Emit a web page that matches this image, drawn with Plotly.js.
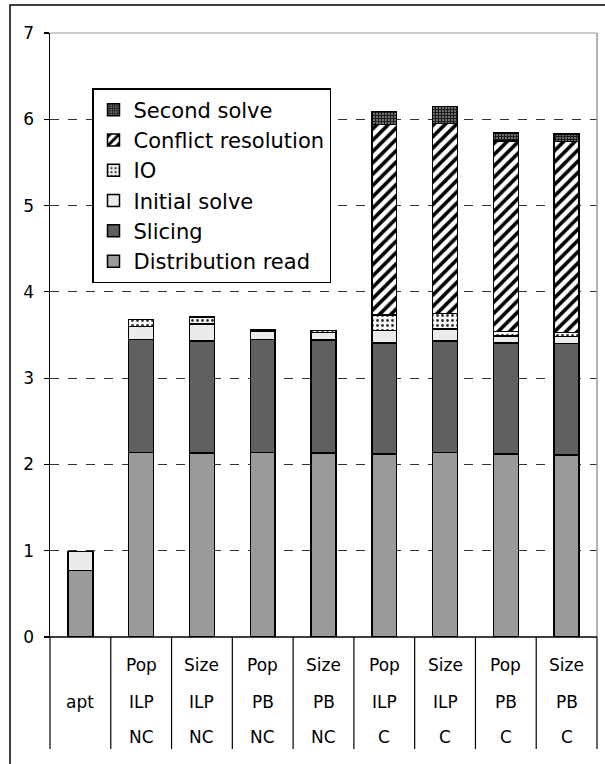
<!DOCTYPE html>
<html>
<head>
<meta charset="utf-8">
<script src="https://cdn.plot.ly/plotly-3.0.1.min.js"></script>
<style>html,body{margin:0;padding:0;background:#fff;}#chart{width:605px;height:764px;}</style>
</head>
<body>
<div id="chart"></div>
<script>
// ---- data ----
const categories = ["apt", "Pop ILP NC", "Size ILP NC", "Pop PB NC", "Size PB NC", "Pop ILP C", "Size ILP C", "Pop PB C", "Size PB C"];
const row1Labels = ["", "Pop", "Size", "Pop", "Size", "Pop", "Size", "Pop", "Size"];
const row2Labels = ["apt", "ILP", "ILP", "PB", "PB", "ILP", "ILP", "PB", "PB"];
const row3Labels = ["", "NC", "NC", "NC", "NC", "C", "C", "C", "C"];

const distributionRead = [0.77, 2.14, 2.13, 2.14, 2.13, 2.12, 2.14, 2.12, 2.11];
const slicing          = [0,    1.31, 1.30, 1.31, 1.31, 1.29, 1.29, 1.29, 1.29];
const initialSolve     = [0.22, 0.15, 0.20, 0.09, 0.09, 0.14, 0.14, 0.08, 0.08];
const io               = [0,    0.08, 0.08, 0.02, 0.02, 0.18, 0.18, 0.05, 0.05];
const conflictRes      = [0,    0,    0,    0,    0,    2.21, 2.20, 2.21, 2.21];
const secondSolve      = [0,    0,    0,    0,    0,    0.15, 0.20, 0.09, 0.09];

const yTicks = [0, 1, 2, 3, 4, 5, 6, 7];

// ---- traces ----
const line = {color: "#000", width: 1.5};
function bar(name, y, marker) {
  return {type: "bar", name: name, x: categories, y: y,
          marker: Object.assign({line: line}, marker), hoverinfo: "skip"};
}
const traces = [
  bar("Distribution read", distributionRead, {color: "#9a9a9a"}),
  bar("Slicing", slicing, {color: "#606060"}),
  bar("Initial solve", initialSolve, {color: "#ebebeb"}),
  bar("IO", io, {color: "#ffffff", pattern: {shape: ".", fgcolor: "#333", bgcolor: "#f6f6f6", size: 5, solidity: 0.25}}),
  bar("Conflict resolution", conflictRes, {color: "#ffffff", pattern: {shape: "/", fgcolor: "#000", bgcolor: "#fff", size: 8, solidity: 0.45}}),
  bar("Second solve", secondSolve, {color: "#444", pattern: {shape: "+", fgcolor: "#1c1c1c", bgcolor: "#a0a0a0", size: 3, solidity: 0.7}})
];

// ---- table lines & labels ----
const L = 50, R = 597, T = 33, B = 637;
const pw = R - L, ph = B - T;
const py = p => (B - p) / ph;
const shapes = [];
const n = categories.length;
for (let i = 0; i <= n; i++) {
  shapes.push({type: "line", xref: "paper", yref: "paper", x0: i / n, x1: i / n,
               y0: 0, y1: py(749), line: {color: "#000", width: 1.2}});
}
// plot border top and right (gray)
shapes.push({type: "line", xref: "paper", yref: "paper", x0: 1, x1: 1, y0: 0, y1: 1, line: {color: "#999", width: 1.5}});
shapes.push({type: "line", xref: "paper", yref: "paper", x0: 0, x1: 1, y0: 1, y1: 1, line: {color: "#999", width: 1.2}});
// outer chart border
shapes.push({type: "rect", xref: "paper", yref: "paper", x0: (10 - L) / pw, x1: 1.2, y0: py(5), y1: py(800),
             line: {color: "#000", width: 1.5}, fillcolor: "rgba(0,0,0,0)"});
// axis line at 0 extended slightly left
shapes.push({type: "line", xref: "paper", yref: "paper", x0: (45 - L) / pw, x1: 1, y0: 0, y1: 0, line: {color: "#000", width: 1.5}});

const annotations = [];
const rows = [[row1Labels, 665], [row2Labels, 702], [row3Labels, 737]];
rows.forEach(([labels, ypix]) => {
  labels.forEach((t, i) => {
    if (!t) return;
    annotations.push({xref: "x", yref: "paper", x: categories[i], y: py(ypix), text: t,
                      showarrow: false, xanchor: "center", yanchor: "middle",
                      font: {family: "DejaVu Sans", size: 17, color: "#000"}});
  });
});

const layout = {
  width: 605, height: 764,
  margin: {l: L, r: 605 - R, t: T, b: 764 - B, pad: 0},
  paper_bgcolor: "#fff", plot_bgcolor: "#fff",
  barmode: "stack", bargap: 0.59,
  font: {family: "DejaVu Sans", size: 16, color: "#000"},
  showlegend: true,
  legend: {x: (92 - L) / pw, y: py(88), xanchor: "left", yanchor: "top",
           bordercolor: "#000", borderwidth: 1.5, bgcolor: "#fff",
           font: {family: "DejaVu Sans", size: 21, color: "#000"},
           traceorder: "reversed", itemwidth: 30},
  xaxis: {type: "category", showticklabels: false, showgrid: false, zeroline: false,
          showline: false, ticks: "", range: [-0.5, n - 0.5], fixedrange: true},
  yaxis: {range: [0, 7], tickvals: yTicks, ticktext: yTicks.map(String), ticks: "outside", ticklen: 5,
          tickcolor: "#000", tickwidth: 1.2, showline: true, linecolor: "#000", linewidth: 1.5,
          showgrid: true, gridcolor: "#333", griddash: "dash", gridwidth: 1, zeroline: false,
          tickfont: {family: "DejaVu Sans", size: 17, color: "#000"}, ticklabelstandoff: 6},
  shapes: shapes,
  annotations: annotations
};

Plotly.newPlot("chart", traces, layout, {staticPlot: true, displayModeBar: false});
</script>
</body>
</html>
